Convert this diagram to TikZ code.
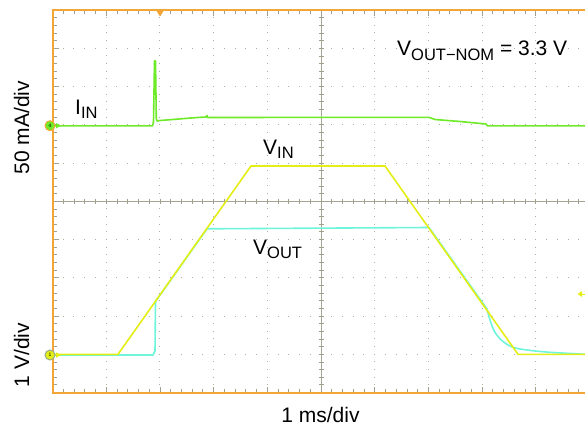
\documentclass[tikz,border=0pt]{standalone}
\usepackage{fontspec}
\setmainfont{Liberation Sans}
\definecolor{orangeB}{RGB}{242,166,56}
\definecolor{gridc}{RGB}{175,175,160}
\definecolor{tickc}{RGB}{160,160,140}
\definecolor{axisc}{RGB}{165,165,145}
\definecolor{greenT}{RGB}{110,235,40}
\definecolor{yellowT}{RGB}{228,238,20}
\definecolor{cyanT}{RGB}{110,245,220}
\definecolor{ringY}{RGB}{150,170,140}
\newcommand\mysub[1]{\raisebox{-4.5pt}{\fontsize{16.5}{18}\selectfont #1}}
\begin{document}
\begin{tikzpicture}[x=1pt,y=-1pt, font=\fontsize{21}{24}\selectfont,
  gridline/.style={color=gridc, line width=1pt},
  tickline/.style={color=tickc, line width=0.8pt},
  axisline/.style={color=axisc, line width=0.9pt},
  border/.style={color=orangeB, line width=2pt},
  trace/.style={line width=1.6pt, line join=round},
  lbl/.style={inner sep=0pt, anchor=base west},
  marker/.style={circle, minimum size=10pt, inner sep=0pt, line width=1pt, font=\fontsize{5}{5}\selectfont}]
\useasboundingbox (0,0) rectangle (585,428);
\fill[white] (0,0) rectangle (585,428);
\begin{scope}
\clip (52.5,10) rectangle (585,392.5);
% dotted grid
\foreach \i in {1,2,3,4,6,7,8,9} {
  \draw[gridline, dash pattern=on 1pt off 6.65pt, dash phase=0.5pt] (52.5+\i*53.7,10) -- (52.5+\i*53.7,392.5);
  \draw[gridline, dash pattern=on 1pt off 9.74pt, dash phase=0.5pt] (52.5,10+\i*38.25) -- (589.5,10+\i*38.25);
}
% center axes
\draw[axisline] (321,10) -- (321,392.5);
\draw[axisline] (52.5,201) -- (589.5,201);
\foreach \k in {0,...,50} {
  \draw[tickline] (321-2.5,10+\k*7.65) -- (321+2.5,10+\k*7.65);
  \draw[tickline] (52.5+\k*10.74,201-2.5) -- (52.5+\k*10.74,201+2.5);
  \draw[tickline] (52.5+\k*10.74,10) -- ++(0,4);
  \draw[tickline] (52.5+\k*10.74,392.5) -- ++(0,-4);
  \draw[tickline] (52.5,10+\k*7.65) -- ++(4,0);
}
\foreach \k in {0,...,10} {
  \draw[tickline] (52.5+\k*53.7,10) -- ++(0,6);
  \draw[tickline] (52.5+\k*53.7,392.5) -- ++(0,-6);
  \draw[tickline] (52.5,10+\k*38.25) -- ++(6,0);
}
% IIN trace
\draw[trace, greenT] (52.5,125.8) -- (152.5,125.8) -- (153.5,122) -- (154.5,61) -- (155.5,61)
  -- (156.3,118) -- (157,121) -- (160,120.5) .. controls (180,119) and (195,117.5) .. (206,117)
  -- (207,115.5) -- (207.5,117.5) -- (429,117.3) -- (435,119.5) -- (460,121.5) -- (486,124)
  -- (487.5,125.9) -- (590,125.9);
% VOUT trace
\draw[trace, cyanT] (52.5,355) -- (153,355) -- (155,351) -- (155.5,301.5) -- (207,228.8)
  -- (429,227.5) -- (487,309)
  -- plot[smooth] coordinates {(487,309) (490,320) (495,332.5) (503,341.5) (513,347.3) (527,350) (550,352.3) (590,354.5)};
% VIN trace
\draw[trace, yellowT] (52.5,354.3) -- (118,354.3) -- (251,166) -- (385,166) -- (518,354.3) -- (590,354.3);
\end{scope}
% borders
\draw[border] (52.5,9) -- (52.5,393.5);
\draw[border] (52.5,10) -- (585,10);
\draw[border] (52.5,392.5) -- (585,392.5);
% trigger markers
\fill[orangeB] (156.5,11) -- (163.5,11) -- (160,16.5) -- cycle;
\coordinate (tl) at (585,294);
\fill[yellowT] (577.5,294) -- (582,291) -- (582,297) -- cycle;
\draw[yellowT, line width=1pt] (580,294) -- (tl);
% channel markers
\node[marker, fill=greenT, draw=orangeB] (m4) at (50,125.7) {4};
\fill[greenT] (61,125.7) -- (56,123) -- (56,128.4) -- cycle;
\node[marker, fill=yellowT, draw=ringY] (m1) at (50,355) {1};
\fill[yellowT] (61,355) -- (56,352.3) -- (56,357.7) -- cycle;
% labels
\node[lbl] (iin) at (75,114) {I\mysub{IN}};
\node[lbl] (vin) at (263,154) {V\mysub{IN}};
\node[lbl] (vout) at (253,254) {V\mysub{OUT}};
\node[lbl] (vnom) at (397,56) {V\mysub{OUT−NOM} = 3.3 V};
\node[inner sep=0pt, anchor=base] (tdiv) at (320.5,422) {1 ms/div};
\node[inner sep=0pt, anchor=base, rotate=90] (idiv) at (29,127.5) {50 mA/div};
\node[inner sep=0pt, anchor=base, rotate=90] (vdiv) at (29,355) {1 V/div};
\end{tikzpicture}
\end{document}
